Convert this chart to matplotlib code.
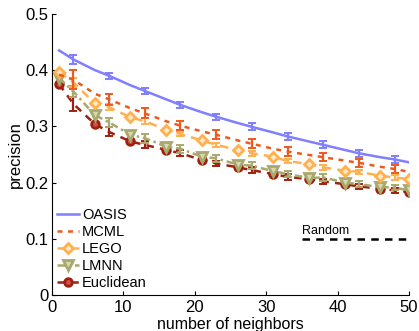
import matplotlib
matplotlib.use("Agg")
import matplotlib.pyplot as plt
import numpy as np

plt.rcParams['font.family'] = ['Liberation Sans', 'DejaVu Sans']

# sample points (markers at even indices, error bars at odd indices)
x = [1, 3, 6, 8, 11, 13, 16, 18, 21, 23, 26, 28, 31, 33, 36, 38, 41, 43, 46, 48, 50]

oasis = [0.435, 0.419, 0.400, 0.390, 0.373, 0.363, 0.348, 0.338, 0.325, 0.317, 0.306,
         0.299, 0.289, 0.282, 0.273, 0.267, 0.258, 0.252, 0.245, 0.241, 0.236]
mcml = [0.392, 0.383, 0.358, 0.348, 0.332, 0.323, 0.309, 0.301, 0.291, 0.285, 0.275,
        0.269, 0.260, 0.255, 0.249, 0.245, 0.239, 0.235, 0.228, 0.224, 0.219]
lego = [0.397, 0.378, 0.341, 0.334, 0.316, 0.309, 0.294, 0.286, 0.275, 0.267, 0.258,
        0.252, 0.246, 0.238, 0.233, 0.227, 0.221, 0.219, 0.212, 0.209, 0.206]
lmnn = [0.386, 0.362, 0.320, 0.307, 0.285, 0.279, 0.264, 0.260, 0.246, 0.243, 0.232,
        0.230, 0.220, 0.215, 0.208, 0.209, 0.200, 0.197, 0.192, 0.191, 0.186]
eucl = [0.375, 0.340, 0.304, 0.290, 0.273, 0.267, 0.258, 0.252, 0.240, 0.234, 0.227,
        0.222, 0.215, 0.210, 0.206, 0.202, 0.197, 0.193, 0.189, 0.186, 0.183]

oasis_err = [0.008, 0.005, 0.005, 0.005, 0.005, 0.006, 0.006, 0.006, 0.006, 0.006]
mcml_err = [0.017, 0.010, 0.009, 0.008, 0.008, 0.008, 0.008, 0.007, 0.007, 0.007]
lego_err = [0.008, 0.005, 0.005, 0.004, 0.004, 0.004, 0.004, 0.004, 0.004, 0.004]
lmnn_err = [0.010, 0.008, 0.008, 0.007, 0.006, 0.006, 0.006, 0.006, 0.005, 0.005]
eucl_err = [0.013, 0.008, 0.006, 0.005, 0.005, 0.005, 0.005, 0.004, 0.004, 0.004]

random_level = 0.1
random_x = [35, 50]

names = ['OASIS', 'MCML', 'LEGO', 'LMNN', 'Euclidean']

fig = plt.figure(figsize=(4.19, 3.31), dpi=100)
ax = fig.add_axes([0.124, 0.109, 0.852, 0.849])

xa = np.array(x)
mark_idx = list(range(0, len(x), 2))
err_idx = list(range(1, len(x), 2))

styles = [
    dict(data=oasis, err=oasis_err, color='#7f7fff', lw=1.8, marker=None, mfc=None, ms=0, dashes=None),
    dict(data=mcml, err=mcml_err, color='#ee5a1e', lw=1.8, marker=None, mfc=None, ms=0, dashes=(2, 2.2)),
    dict(data=lego, err=lego_err, color='#ffb04f', lw=1.8, marker='D', mfc='#ffe7c8', ms=5, dashes=(3.5, 2.5)),
    dict(data=lmnn, err=lmnn_err, color='#a9a86e', lw=1.8, marker='v', mfc='#d8d7b0', ms=6.5, dashes=(3, 1.5, 1, 1.5)),
    dict(data=eucl, err=eucl_err, color='#a0200f', lw=1.8, marker='o', mfc='#d05050', ms=5.5, dashes=(3, 2.5)),
]

handles = []
for i, (nm, st) in enumerate(zip(names, styles)):
    y = np.array(st['data'])
    z = 5 - i if i > 0 else 6
    kw = dict(color=st['color'], lw=st['lw'], zorder=z)
    if st['dashes'] is not None:
        kw['dashes'] = st['dashes']
    if st['marker'] is not None:
        kw.update(marker=st['marker'], markevery=mark_idx, markersize=st['ms'],
                  markerfacecolor=st['mfc'], markeredgecolor=st['color'], markeredgewidth=2)
    ln, = ax.plot(xa, y, label=nm, **kw)
    handles.append(ln)
    ax.errorbar(xa[err_idx], y[err_idx], yerr=st['err'], fmt='none', ecolor=st['color'],
                elinewidth=1.6, capsize=3, capthick=1.4, zorder=z)

ax.plot(random_x, [random_level, random_level], color='black', lw=1.8, dashes=(3, 2.5))
ax.text(35, 0.109, 'Random', fontsize=9, ha='left', va='baseline')

ax.set_xlim(0, 50)
ax.set_ylim(0, 0.5)
ax.set_xticks([0, 10, 20, 30, 40, 50])
ax.set_yticks([0, 0.1, 0.2, 0.3, 0.4, 0.5])
ax.set_yticklabels(['0', '0.1', '0.2', '0.3', '0.4', '0.5'])
ax.tick_params(direction='in', labelsize=12, length=3, width=0.8)
ax.tick_params(axis='y', pad=2.5)
ax.tick_params(axis='x', pad=4)
for s in ['top', 'right']:
    ax.spines[s].set_visible(False)
for s in ['left', 'bottom']:
    ax.spines[s].set_linewidth(0.8)

ax.set_xlabel('number of neighbors', fontsize=11.5, labelpad=1)
ax.set_ylabel('precision', fontsize=12, labelpad=2)

leg = ax.legend(handles=handles, loc='lower left', bbox_to_anchor=(0.0, 0.0), frameon=False,
                fontsize=10.5, handlelength=1.5, handletextpad=0.2, labelspacing=0.2,
                borderaxespad=0.15, borderpad=0.2)

fig.savefig('out.png', dpi=100)
